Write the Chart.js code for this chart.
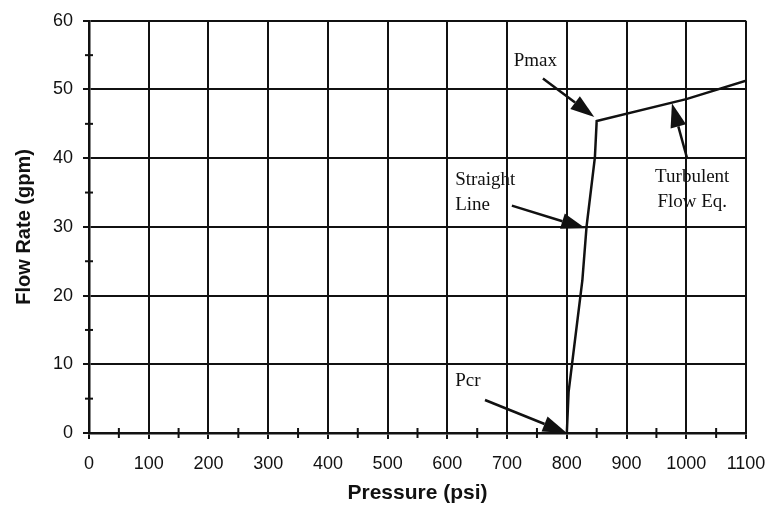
<!DOCTYPE html>
<html>
<head>
  <title>Flow Rate vs Pressure</title>
  <script src="https://cdn.jsdelivr.net/npm/chart.js"></script>
  <style>
    body {
      margin: 0;
      background: #fff;
    }
    #wrap {
      width: 768px;
      height: 508px;
    }
  </style>
</head>
<body>
  <div id="wrap"><canvas id="flowChart" width="768" height="508"></canvas></div>

  <script>
    // curve (pressure psi, flow gpm)
    const pressure = [800, 803, 826, 833, 847, 850, 1000, 1100];
    const flowRate = [0, 6, 22.2, 30, 40.1, 45.4, 48.6, 51.3];

    const xTicks = [0, 100, 200, 300, 400, 500, 600, 700, 800, 900, 1000, 1100];
    const yTicks = [0, 10, 20, 30, 40, 50, 60];

    // annotations: text lines and anchor (data coords), arrow from -> to
    const noteText = [['Pmax'], ['Straight', 'Line'], ['Turbulent', 'Flow Eq.'], ['Pcr']];
    const noteAt = [[711, 54.2], [613, 36.8], [1010, 37.2], [613, 7.5]];
    const noteAlign = ['left', 'left', 'center', 'left'];
    const arrowFrom = [[760, 51.6], [708, 33.1], [1001, 40.1], [663, 4.8]];
    const arrowTo = [[846, 46.0], [831, 29.8], [976, 48.0], [800, 0]];

    const ink = '#111';

    const notesPlugin = {
      id: 'notes',
      afterDatasetsDraw(chart) {
        const c = chart.ctx;
        const xs = chart.scales.x, ys = chart.scales.y;

        // minor ticks on the axes
        c.save();
        c.strokeStyle = ink;
        c.lineWidth = 2;
        for (let v = 50; v < 1100; v += 100) {
          const px = xs.getPixelForValue(v);
          c.beginPath();
          c.moveTo(px, ys.bottom - 5);
          c.lineTo(px, ys.bottom + 5);
          c.stroke();
        }
        for (let v = 5; v < 60; v += 10) {
          const py = ys.getPixelForValue(v);
          c.beginPath();
          c.moveTo(xs.left - 4, py);
          c.lineTo(xs.left + 4, py);
          c.stroke();
        }

        // arrows
        c.fillStyle = ink;
        c.lineWidth = 2.5;
        arrowFrom.forEach((f, i) => {
          const t = arrowTo[i];
          const x1 = xs.getPixelForValue(f[0]), y1 = ys.getPixelForValue(f[1]);
          const x2 = xs.getPixelForValue(t[0]), y2 = ys.getPixelForValue(t[1]);
          const a = Math.atan2(y2 - y1, x2 - x1);
          const len = 24, half = 8;
          const bx = x2 - len * Math.cos(a), by = y2 - len * Math.sin(a);
          c.beginPath();
          c.moveTo(x1, y1);
          c.lineTo(bx, by);
          c.stroke();
          c.beginPath();
          c.moveTo(x2, y2);
          c.lineTo(bx + half * Math.sin(a), by - half * Math.cos(a));
          c.lineTo(bx - half * Math.sin(a), by + half * Math.cos(a));
          c.closePath();
          c.fill();
        });

        // labels
        c.font = '19px "Liberation Serif", "DejaVu Serif", serif';
        c.textBaseline = 'middle';
        noteText.forEach((lines, i) => {
          const px = xs.getPixelForValue(noteAt[i][0]);
          const py = ys.getPixelForValue(noteAt[i][1]);
          c.textAlign = noteAlign[i];
          lines.forEach((s, k) => c.fillText(s, px, py + k * 25));
        });
        c.restore();
      }
    };

    const ctx = document.getElementById('flowChart').getContext('2d');
    const chart = new Chart(ctx, {
      type: 'scatter',
      data: {
        datasets: [{
          label: 'Flow',
          data: pressure.map((p, i) => ({ x: p, y: flowRate[i] })),
          showLine: true,
          borderColor: ink,
          borderWidth: 2.5,
          pointRadius: 0,
          tension: 0,
          fill: false
        }]
      },
      options: {
        responsive: false,
        animation: false,
        layout: { padding: { top: 20, right: 22, left: 0, bottom: 0 } },
        plugins: {
          legend: { display: false },
          tooltip: { enabled: false }
        },
        scales: {
          x: {
            type: 'linear',
            min: 0, max: 1100,
            afterBuildTicks: s => { s.ticks = xTicks.map(v => ({ value: v })); },
            afterFit: s => { s.height = 75; s.paddingRight = 0; s.paddingLeft = 0; },
            border: { color: ink, width: 2.5 },
            grid: { color: ink, lineWidth: 2, tickLength: 6, tickColor: ink },
            ticks: {
              color: '#111',
              padding: 14,
              maxRotation: 0,
              callback: v => String(v),
              font: { family: 'Liberation Sans', size: 18 }
            },
            title: {
              display: true,
              text: 'Pressure (psi)',
              color: '#111',
              padding: { top: 0, bottom: 2 },
              font: { family: 'Liberation Sans', size: 21, weight: 'bold' }
            }
          },
          y: {
            min: 0, max: 60,
            afterBuildTicks: s => { s.ticks = yTicks.map(v => ({ value: v })); },
            afterFit: s => { s.width = 89; },
            border: { color: ink, width: 2.5 },
            grid: { color: ink, lineWidth: 2, tickLength: 6, tickColor: ink },
            ticks: {
              color: '#111',
              padding: 10,
              font: { family: 'Liberation Sans', size: 18 }
            },
            title: {
              display: true,
              text: 'Flow Rate (gpm)',
              color: '#111',
              padding: { top: 12, bottom: 0 },
              font: { family: 'Liberation Sans', size: 20, weight: 'bold' }
            }
          }
        }
      },
      plugins: [notesPlugin]
    });
  </script>
</body>
</html>
